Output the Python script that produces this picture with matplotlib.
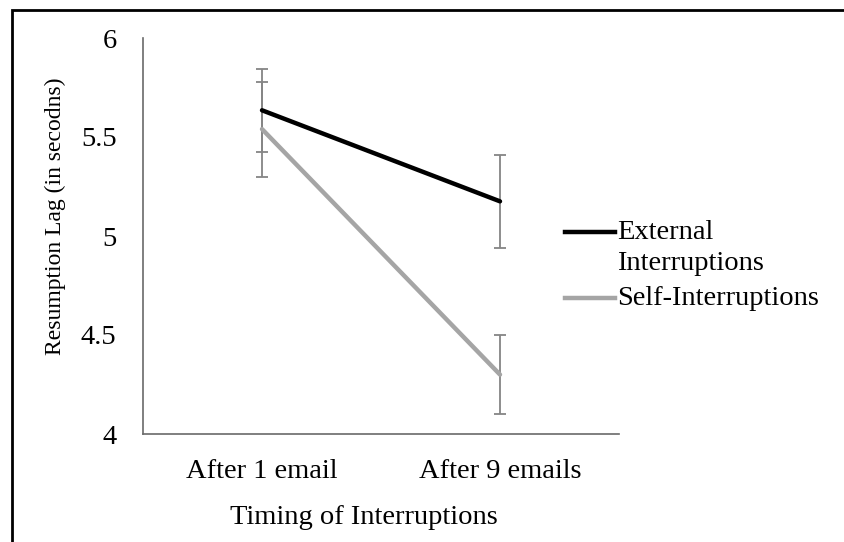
import numpy as np
import matplotlib
matplotlib.use('Agg')
import matplotlib.pyplot as plt
from matplotlib.lines import Line2D
from matplotlib.patches import Rectangle

plt.rcParams['font.family'] = ['Liberation Serif', 'DejaVu Serif']

# data
timing = ['After 1 email', 'After 9 emails']
external = [5.635, 5.175]
external_err = [0.21, 0.235]
self_int = [5.54, 4.30]
self_err = [0.24, 0.20]
yticks = [4, 4.5, 5, 5.5, 6]
ytick_labels = ['4', '4.5', '5', '5.5', '6']

fig = plt.figure(figsize=(8.45, 5.42), dpi=100)
ax = fig.add_axes([143/845, 1 - 434/542, (619 - 143)/845, (434 - 38)/542])

x = np.arange(len(timing))
ax.plot(x, external, color='black', lw=3.2, solid_capstyle='round', zorder=3)
ax.plot(x, self_int, color='#a5a5a5', lw=3.2, solid_capstyle='round', zorder=3)
ax.errorbar(x, external, yerr=external_err, fmt='none', ecolor='#858585',
            elinewidth=1.3, capsize=4.5, capthick=1.3, zorder=2)
ax.errorbar(x, self_int, yerr=self_err, fmt='none', ecolor='#858585',
            elinewidth=1.3, capsize=4.5, capthick=1.3, zorder=2)

ax.set_xlim(-0.5, 1.5)
ax.set_ylim(4, 6)
ax.set_xticks(x)
ax.set_xticklabels(timing, fontsize=20.5)
ax.set_yticks(yticks)
ax.set_yticklabels(ytick_labels, fontsize=20.5)
ax.tick_params(axis='both', length=0)
ax.tick_params(axis='x', pad=18)
ax.tick_params(axis='y', pad=19)
for s in ['top', 'right']:
    ax.spines[s].set_visible(False)
for s in ['left', 'bottom']:
    ax.spines[s].set_color('#6a6a6a')
    ax.spines[s].set_linewidth(1.2)

fig.text(55/845, 1 - 216/542, 'Resumption Lag (in secodns)', rotation=90,
         fontsize=17, ha='center', va='center')
fig.text(364/845, 1 - 517/542, 'Timing of Interruptions', fontsize=20.5,
         ha='center', va='center')

# legend drawn by hand, handle aligned with the first text line
leg = [('External\nInterruptions', 'black', 232), ('Self-Interruptions', '#a5a5a5', 298)]
for label, col, ypx in leg:
    fig.add_artist(Line2D([565/845, 615/845], [1 - ypx/542, 1 - ypx/542],
                          color=col, lw=3.2, transform=fig.transFigure))
    fig.text(617/845, 1 - (ypx - 12)/542, label, fontsize=20.5, ha='left', va='top',
             linespacing=1.3)

# outer frame
fig.add_artist(Rectangle((12/845, -0.05), 1.1, 1 - 10/542 + 0.05, fill=False,
                         edgecolor='black', lw=2, transform=fig.transFigure))

fig.savefig('out.png', dpi=100)
